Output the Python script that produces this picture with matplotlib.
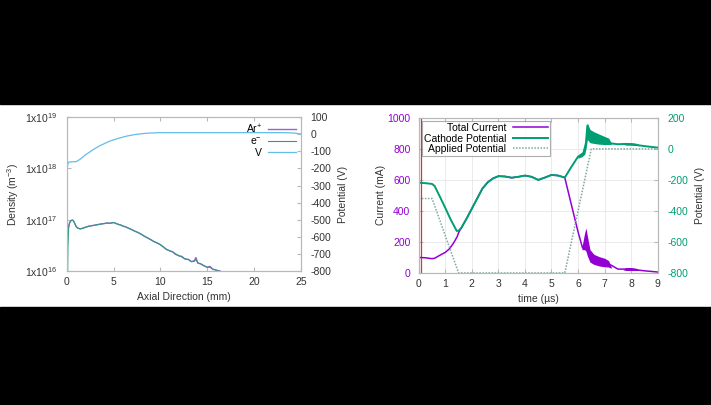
import matplotlib
matplotlib.use('Agg')
import matplotlib.pyplot as plt
from matplotlib.patches import Rectangle
from matplotlib.ticker import FixedLocator

plt.rcParams['font.family'] = ['Liberation Sans', 'DejaVu Sans']
plt.rcParams['mathtext.fontset'] = 'custom'
plt.rcParams['mathtext.rm'] = 'Liberation Sans'
plt.rcParams['axes.unicode_minus'] = False

# ---- left panel: axial profiles ----
z_dens = [0.0, 0.05, 0.1, 0.2, 0.3, 0.4, 0.5, 0.6, 0.7, 0.8, 0.9, 1.0, 1.2, 1.4, 1.6,
          1.8, 2.0, 2.3, 2.6, 3.0, 3.3, 3.6, 4.0, 4.3, 4.6, 5.0, 5.2, 5.5, 5.8, 6.0,
          6.3, 6.6, 7.0, 7.3, 7.6, 8.0, 8.3, 8.6, 9.0, 9.3, 9.6, 10.0, 10.3, 10.6,
          11.0, 11.3, 11.6, 12.0, 12.3, 12.6, 13.0, 13.3, 13.6, 13.8, 14.0, 14.3,
          14.6, 15.0, 15.3, 15.6, 16.0, 16.3, 16.6, 17.0]
ar_dens = [3.8, 5.0, 6.2, 7.8, 8.8, 9.5, 9.8, 9.9, 9.6, 8.9, 8.1, 7.4, 6.9, 6.7, 6.8,
           7.0, 7.2, 7.5, 7.7, 7.9, 8.1, 8.3, 8.5, 8.7, 8.6, 8.9, 8.6, 8.2, 7.9, 7.6,
           7.3, 6.9, 6.4, 6.0, 5.7, 5.2, 4.8, 4.5, 4.1, 3.8, 3.6, 3.3, 3.0, 2.7,
           2.5, 2.4, 2.15, 2.0, 1.95, 1.75, 1.7, 1.55, 1.6, 1.85, 1.45, 1.4,
           1.3, 1.2, 1.25, 1.1, 1.05, 1.02, 0.98, 0.95]
z_edens = [0.08, 0.1, 0.12, 0.2, 0.3, 0.4, 0.5, 0.6, 0.7, 0.8, 0.9, 1.0, 1.2, 1.4, 1.6,
           1.8, 2.0, 2.3, 2.6, 3.0, 3.3, 3.6, 4.0, 4.3, 4.6, 5.0, 5.2, 5.5, 5.8, 6.0,
           6.3, 6.6, 7.0, 7.3, 7.6, 8.0, 8.3, 8.6, 9.0, 9.3, 9.6, 10.0, 10.3, 10.6,
           11.0, 11.3, 11.6, 12.0, 12.3, 12.6, 13.0, 13.3, 13.6, 13.8, 14.0, 14.3,
           14.6, 15.0, 15.3, 15.6, 16.0, 16.3, 16.6, 17.0]
e_dens = [0.8, 1.5, 3.0, 7.0, 8.8, 9.5, 9.8, 9.9, 9.6, 8.9, 8.1, 7.4, 6.9, 6.7, 6.8,
          7.0, 7.2, 7.5, 7.7, 7.9, 8.1, 8.3, 8.5, 8.7, 8.6, 8.9, 8.6, 8.2, 7.9, 7.6,
          7.3, 6.9, 6.4, 6.0, 5.7, 5.2, 4.8, 4.5, 4.1, 3.8, 3.6, 3.3, 3.0, 2.7,
          2.5, 2.4, 2.2, 2.0, 1.9, 1.75, 1.7, 1.55, 1.55, 1.7, 1.45, 1.4,
          1.3, 1.2, 1.2, 1.1, 1.05, 1.0, 0.98, 0.95]
z_pot = [0.0, 0.05, 0.1, 0.2, 0.5, 1.0, 1.4, 2.0, 2.85, 3.5, 4.6, 5.5, 6.4, 7.3, 8.2,
         9.0, 10.0, 15.0, 20.0, 23.0, 24.3, 25.0]
v_pot = [-235, -200, -175, -163, -161, -160, -147, -120, -89, -68, -40, -24, -11, -2, 4,
         7, 9, 9, 9, 9, 7, 1]

# ---- right panel: time traces ----
t_cur = [0.0, 0.25, 0.5, 0.6, 0.75, 1.0, 1.15, 1.3, 1.45, 1.5, 1.6, 1.8, 2.0, 2.2, 2.4,
         2.6, 2.8, 3.0, 3.25, 3.5, 3.75, 4.0, 4.25, 4.5, 4.75, 5.0, 5.25, 5.5, 5.75,
         6.0, 6.17, 6.3, 6.45, 6.7, 7.0, 7.25, 7.5, 7.8, 8.0, 8.2, 8.5, 9.0]
i_cur = [100, 98, 92, 95, 110, 133, 155, 190, 235, 260, 290, 350, 415, 480, 545,
         585, 610, 624, 622, 614, 620, 628, 620, 600, 615, 632, 628, 615, 439,
         265, 161, 200, 110, 80, 65, 50, 25, 25, 25, 20, 14, 6]
t_cur_band = [6.15, 6.25, 6.3, 6.35, 6.45, 6.6, 6.8, 7.0, 7.15, 7.25]
i_band_hi = [170, 260, 290, 240, 150, 120, 105, 95, 80, 40]
i_band_lo = [150, 150, 140, 110, 70, 55, 45, 40, 38, 30]
t_cur_band2 = [7.7, 7.8, 8.0, 8.2, 8.3]
i_band2_hi = [22, 35, 35, 30, 20]
i_band2_lo = [20, 16, 16, 16, 16]

t_cath = [0.0, 0.3, 0.5, 0.6, 0.8, 1.0, 1.2, 1.43, 1.5, 1.6, 1.8, 2.0, 2.2, 2.4, 2.6,
          2.8, 3.0, 3.25, 3.5, 3.75, 4.0, 4.25, 4.5, 4.75, 5.0, 5.25, 5.5, 5.75, 6.0,
          6.2, 6.3, 6.35, 6.45, 6.7, 7.0, 7.25, 7.5, 7.8, 8.0, 8.2, 8.5, 9.0]
v_cath = [-218, -222, -226, -240, -310, -381, -455, -529, -528, -510, -450, -385, -320,
          -255, -215, -190, -176, -178, -186, -180, -172, -180, -200, -185, -168, -172,
          -185, -116, -50, -30, 40, 150, 90, 70, 55, 35, 30, 32, 30, 25, 18, 8]
t_cath_band = [6.0, 6.15, 6.25, 6.3, 6.35, 6.45, 6.6, 6.8, 7.0, 7.15, 7.25]
v_band_hi = [-40, -20, 20, 120, 168, 125, 110, 95, 80, 70, 40]
v_band_lo = [-60, -50, -35, 0, 60, 40, 35, 30, 28, 28, 28]
t_cath_band2 = [7.7, 7.8, 8.0, 8.2, 8.3]
v_band2_hi = [32, 40, 40, 36, 26]
v_band2_lo = [30, 24, 24, 22, 20]

t_app = [0.0, 0.5, 1.5, 5.5, 6.5, 9.0]
v_app = [-320, -320, -800, -800, 0, 0]
t_marker = 0.07

purple = '#9400D3'
green = '#009E73'
skyblue = '#62bde8'
txt = '#333333'
frame = '#b8b8b8'
fs = 7.5

fig = plt.figure(figsize=(7.11, 4.05), dpi=100)
fig.patches.append(Rectangle((0, 0.743), 1, 0.257, transform=fig.transFigure,
                             color='black', zorder=-1))
fig.patches.append(Rectangle((0, 0), 1, 0.242, transform=fig.transFigure,
                             color='black', zorder=-1))


def style(ax):
    for s in ax.spines.values():
        s.set_color(frame)
        s.set_linewidth(0.8)
    ax.tick_params(direction='in', length=3, color=frame, labelsize=fs,
                   labelcolor=txt, top=True)
    ax.tick_params(axis='y', pad=7)
    ax.tick_params(axis='x', pad=4)


# left panel
ax1 = fig.add_axes([0.094, 0.33, 0.329, 0.381])
ax1.set_yscale('log')
la, = ax1.plot(z_dens, [d * 1e16 for d in ar_dens], color='#9a62d6', lw=1.0)
le, = ax1.plot(z_edens, [d * 1e16 for d in e_dens], color='#2f9c80', lw=0.8)
ax1.set_xlim(0, 25)
ax1.set_ylim(1e16, 1e19)
ax1.yaxis.set_major_locator(FixedLocator([1e16, 1e17, 1e18, 1e19]))
ax1.yaxis.set_minor_locator(FixedLocator([]))
ax1.set_yticklabels([r'1x10$^{16}$', r'1x10$^{17}$', r'1x10$^{18}$', r'1x10$^{19}$'])
ax1.set_xticks([0, 5, 10, 15, 20, 25])
ax1.set_xlabel('Axial Direction (mm)', fontsize=fs, color=txt, labelpad=4)
ax1.set_ylabel(r'Density (m$^{-3}$)', fontsize=fs, color=txt, labelpad=3)
style(ax1)
ax1b = ax1.twinx()
lv, = ax1b.plot(z_pot, v_pot, color=skyblue, lw=0.9)
ax1b.set_ylim(-800, 100)
ax1b.set_yticks(range(-800, 101, 100))
ax1b.set_ylabel('Potential (V)', fontsize=fs, color=txt, labelpad=5)
style(ax1b)
ax1b.tick_params(top=False)
ax1b.legend([la, le, lv], [r'Ar$^{+}$', r'e$^{-}$', 'V'], loc='upper right',
            frameon=False, fontsize=fs, markerfirst=False, handlelength=2.6,
            labelspacing=0.05, borderaxespad=0.1, handletextpad=0.6)

# right panel
ax2 = fig.add_axes([0.589, 0.326, 0.336, 0.383])
ax2.grid(True, color='#e6e6e6', lw=0.6)
ax2.set_axisbelow(True)
ax2.axvline(t_marker, color='#e03030', lw=0.9)
lc, = ax2.plot(t_cur, i_cur, color=purple, lw=1.1)
ax2.fill_between(t_cur_band, i_band_lo, i_band_hi, color=purple, lw=0)
ax2.fill_between(t_cur_band2, i_band2_lo, i_band2_hi, color=purple, lw=0)
ax2.set_xlim(0, 9)
ax2.set_ylim(0, 1000)
ax2.set_xticks(range(0, 10))
ax2.set_yticks(range(0, 1001, 200))
ax2.set_xlabel('time (µs)', fontsize=fs, color=txt, labelpad=4)
ax2.set_ylabel('Current (mA)', fontsize=fs, color=txt, labelpad=1)
style(ax2)
ax2.tick_params(axis='y', labelcolor=purple, pad=6)
ax2b = ax2.twinx()
lp, = ax2b.plot(t_cath, v_cath, color=green, lw=1.4)
ax2b.fill_between(t_cath_band, v_band_lo, v_band_hi, color=green, lw=0)
ax2b.fill_between(t_cath_band2, v_band2_lo, v_band2_hi, color=green, lw=0)
lap, = ax2b.plot(t_app, v_app, color='#7fa898', lw=1.1, ls=(0, (1, 1)))
ax2b.set_ylim(-800, 200)
ax2b.set_yticks(range(-800, 201, 200))
ax2b.set_ylabel('Potential (V)', fontsize=fs, color=txt, labelpad=5)
style(ax2b)
ax2b.tick_params(top=False, labelcolor=green)
leg = ax2b.legend([lc, lp, lap], ['Total Current', 'Cathode Potential', 'Applied Potential'],
                  loc='upper left', fontsize=fs, markerfirst=False, handlelength=3.4,
                  labelspacing=0.05, borderaxespad=0.3, handletextpad=0.6,
                  fancybox=False, borderpad=0.2)
leg.get_frame().set_edgecolor('#999999')
leg.get_frame().set_linewidth(0.8)

fig.savefig('out.png', dpi=100)
